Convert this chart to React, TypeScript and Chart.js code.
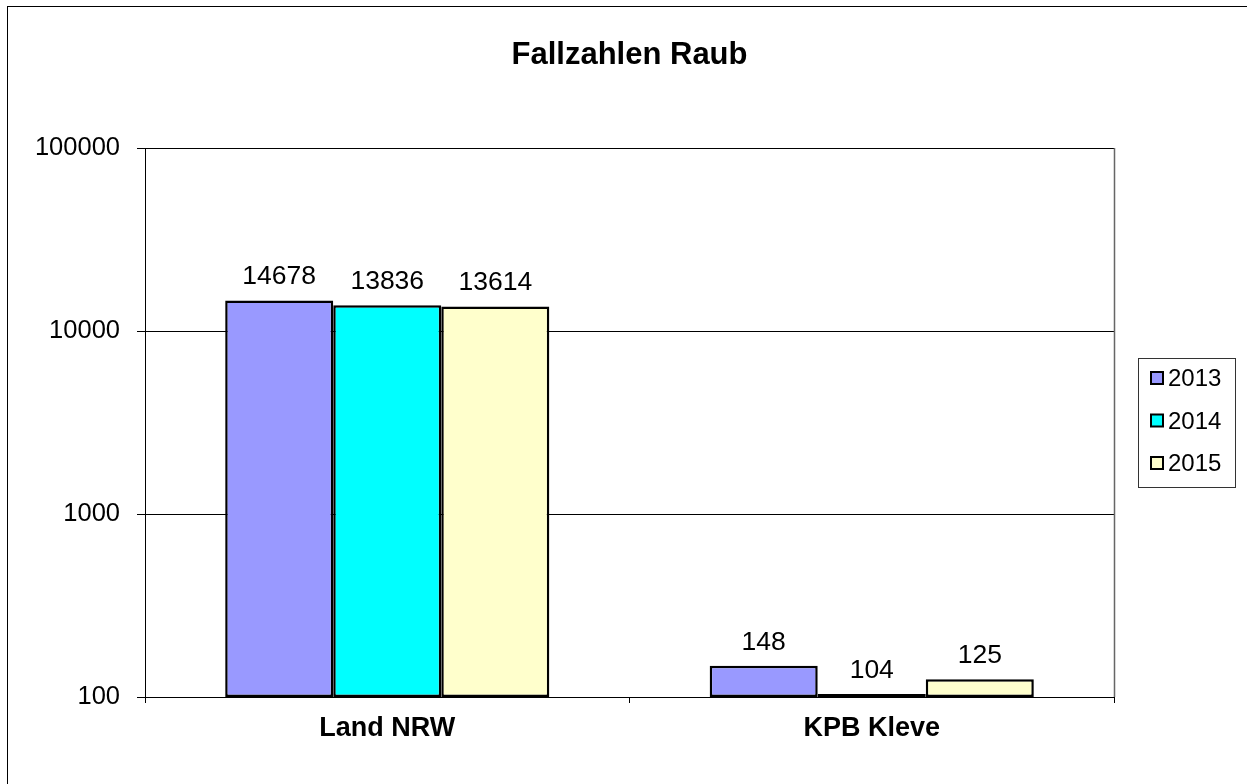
import React, { useEffect, useRef } from "react";
import { Chart, registerables } from "chart.js";

Chart.register(...registerables);

const categories = ["Land NRW", "KPB Kleve"];
const seriesLabels = ["2013", "2014", "2015"];
const values2013 = [14678, 148];
const values2014 = [13836, 104];
const values2015 = [13614, 125];
const yTicks = [100, 1000, 10000, 100000];
const titleText = "Fallzahlen Raub";

const colors = ["#9999FF", "#00FFFF", "#FFFFCC"];
const FONT = '"Liberation Sans", Arial, sans-serif';

const overlayPlugin = {
  id: "overlay",
  afterDraw(chart: any) {
    const ctx = chart.ctx;
    const area = chart.chartArea;
    ctx.save();
    // outer border
    ctx.strokeStyle = "#000";
    ctx.lineWidth = 1;
    ctx.strokeRect(7.5, 6.5, 1260, 800);
    // right plot border
    ctx.strokeStyle = "#666";
    ctx.lineWidth = 1.5;
    ctx.beginPath();
    ctx.moveTo(Math.round(area.right) + 0.5, area.top);
    ctx.lineTo(Math.round(area.right) + 0.5, area.bottom);
    ctx.stroke();
    // title
    ctx.fillStyle = "#000";
    ctx.font = `bold 31px ${FONT}`;
    ctx.textAlign = "center";
    ctx.textBaseline = "alphabetic";
    ctx.fillText(titleText, (area.left + area.right) / 2, 64);
    // value labels
    ctx.font = `26.5px ${FONT}`;
    chart.data.datasets.forEach((ds: any, i: number) => {
      const meta = chart.getDatasetMeta(i);
      meta.data.forEach((el: any, j: number) => {
        ctx.fillText(String(ds.data[j]), el.x, el.y - 16);
      });
    });
    // legend
    const lx = 1138, ly = 358, lw = 97, lh = 129;
    ctx.strokeStyle = "#333";
    ctx.lineWidth = 1;
    ctx.strokeRect(lx + 0.5, ly + 0.5, lw, lh);
    ctx.font = `24px ${FONT}`;
    ctx.textAlign = "left";
    chart.data.datasets.forEach((ds: any, i: number) => {
      const base = 386 + i * 42.5;
      ctx.fillStyle = ds.backgroundColor;
      ctx.fillRect(1151, base - 14, 12, 12);
      ctx.strokeStyle = "#000";
      ctx.lineWidth = 2;
      ctx.strokeRect(1151, base - 14, 12, 12);
      ctx.fillStyle = "#000";
      ctx.fillText(ds.label, 1168, base);
    });
    ctx.restore();
  },
};

export default function App() {
  const canvasRef = useRef<HTMLCanvasElement | null>(null);

  useEffect(() => {
    if (!canvasRef.current) return;
    const data = [values2013, values2014, values2015];
    const chart = new Chart(canvasRef.current, {
      type: "bar",
      data: {
        labels: categories,
        datasets: seriesLabels.map((label, i) => ({
          label,
          data: data[i],
          backgroundColor: colors[i],
          borderColor: "#000",
          borderWidth: 2.5,
          borderSkipped: false,
          categoryPercentage: 0.669,
          barPercentage: 1,
        })),
      },
      options: {
        responsive: false,
        animation: false,
        layout: { padding: { left: 0, top: 148, right: 133, bottom: 0 } },
        plugins: {
          legend: { display: false },
          title: { display: false },
          tooltip: { enabled: false },
        },
        scales: {
          x: {
            type: "category",
            offset: true,
            grid: {
              offset: true,
              drawOnChartArea: false,
              tickLength: 6,
              color: "#000",
            },
            border: { color: "#000", width: 1 },
            ticks: {
              color: "#000",
              font: { family: FONT, size: 27, weight: "bold" },
              padding: 9,
              maxRotation: 0,
            },
            afterFit: (scale: any) => {
              scale.height = 87;
            },
          },
          y: {
            type: "logarithmic",
            min: 100,
            max: 100000,
            grid: { color: "#000", tickLength: 8 },
            border: { color: "#000", width: 1 },
            ticks: {
              color: "#000",
              font: { family: FONT, size: 25.5 },
              padding: 17,
              callback: (v: any) => String(v),
            },
            afterBuildTicks: (scale: any) => {
              scale.ticks = yTicks.map((v) => ({ value: v }));
            },
            afterFit: (scale: any) => {
              scale.width = 145;
            },
          },
        },
      },
      plugins: [overlayPlugin],
    } as any);
    return () => chart.destroy();
  }, []);

  return (
    <div style={{ position: "fixed", left: 0, top: 0, width: 1247, height: 784, background: "#fff" }}>
      <canvas ref={canvasRef} width={1247} height={784} />
    </div>
  );
}
